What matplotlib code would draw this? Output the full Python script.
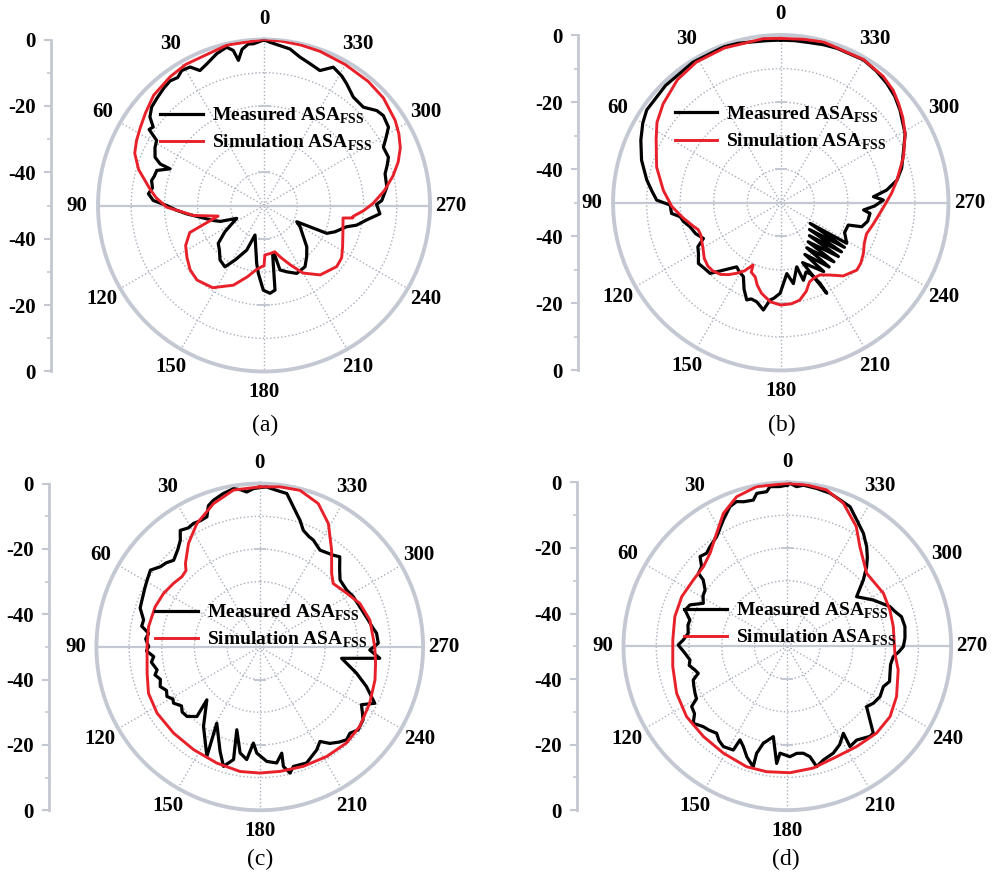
import numpy as np
import matplotlib
matplotlib.use('Agg')
import matplotlib.pyplot as plt

plt.rcParams['font.family'] = ['Liberation Serif', 'DejaVu Serif']
plt.rcParams['mathtext.fontset'] = 'custom'
plt.rcParams['mathtext.rm'] = 'Liberation Serif:bold'

# ---- data: (angle deg, level dB) ----
sim_a_deg = [0, 13, 29, 36, 45, 52, 58, 63, 68, 74, 82, 86, 91, 98, 103, 110, 117, 124, 131, 138,
             148, 159, 167, 173, 178, 180, 181, 187, 193, 198, 204, 210, 219, 230, 236, 242, 252,
             261, 262, 263, 267, 271, 277, 283, 288, 293, 298, 303, 312, 320, 330, 340, 347, 354, 360]
sim_a_db = [0, -0.4, -1.4, -2.0, -3.0, -4.7, -6.0, -6.9, -8.0, -10.7, -15.4, -17.5, -20.7, -28.5,
            -35.8, -26.2, -23.5, -22.0, -20.5, -19.8, -20.8, -24.3, -28, -30.5, -31.6, -31.8, -35.1,
            -35.4, -35.7, -33.5, -30.4, -26.5, -23.1, -21.4, -21.8, -23.2, -25, -25.9, -23.0, -23.0,
            -20, -17.2, -13.5, -10.1, -7.5, -5.4, -4, -2.9, -1.6, -1.2, -1.0, -0.6, -0.4, -0.2, 0]

meas_a_deg = [0, 3.8, 5.5, 8, 10, 11.2, 13.3, 17.3, 22, 25.4, 28.1, 31.4, 34, 37, 40.4, 44.7, 48.8,
              52.2, 54.7, 56.5, 58.8, 62, 66.1, 68.2, 68.7, 71.9, 75, 77.5, 81, 84.2, 87.4, 90, 93,
              96.2, 100.3, 106.5, 110, 115.1, 123.9, 129.6, 135, 141.1, 147.5, 152, 158.8, 163,
              172.8, 175.2, 179.5, 183.9, 187.4, 190, 192, 193.9, 198.9, 205.7, 213.8, 220, 226,
              239.5, 243.6, 246.1, 249.7, 255.6, 258, 262, 265.9, 270.6, 272.4, 278.5, 284.7, 288,
              291.2, 296, 299, 302.2, 307, 310.1, 314.7, 320.5, 325.8, 329, 333.4, 337.5, 342,
              346.4, 350.6, 354.3, 357.9, 360]
meas_a_db = [-0.1, -1.2, -1.1, -2.5, -5.6, -2.4, -1.0, -2.1, -4.0, -5.0, -2.7, -2.4, -3.5, -3.0,
             -3.5, -4.3, -5.0, -6.5, -9.1, -8.5, -12.2, -12.8, -14.1, -16.3, -19.6, -16.0, -15.8,
             -15.3, -16, -15.0, -16.6, -20.7, -23.5, -26.6, -30.4, -34.1, -36, -40.9, -35.8, -32.1,
             -31, -28.9, -28.1, -31.4, -35.6, -40.7, -32.4, -29.5, -24.5, -23.5, -24.3, -35, -35.1,
             -30, -28.9, -27.3, -27.8, -30, -32.1, -37.4, -39, -29.3, -27.2, -24.3, -21.5, -18.8,
             -15, -16.1, -14.5, -12.6, -12.3, -11, -9.8, -10, -8, -5.7, -5.0, -5.6, -7.9, -7.7,
             -5.7, -4.5, -3.4, -6, -5.1, -4, -2.2, -1.6, -0.8, -0.1]

sim_b_deg = [0, 6, 20, 31, 40, 50, 57, 63, 74, 84, 92, 99, 105, 108, 112, 116, 120, 126, 131, 135,
             140, 144, 148, 152, 156, 157, 161, 164, 168, 174, 180, 186, 191, 196, 200, 204, 208.5,
             214, 220.5, 228.5, 233, 238.5, 244, 250, 257, 263, 269, 275, 281, 290.6, 299, 305,
             310, 315, 321, 330, 345, 352, 360]
sim_b_db = [-1.0, -0.8, -0.9, -1.1, -2.1, -4.2, -6, -8.3, -11.5, -14.8, -17.5, -20.6, -23, -24.1,
            -24.3, -23.8, -23.2, -21.8, -21.2, -21.3, -22.1, -23.5, -25.2, -27, -29.7, -27.5, -26.6,
            -24.5, -22.4, -20.3, -19.5, -19.7, -20.4, -22.5, -24.9, -25.5, -25.5, -24, -21.3, -19.7,
            -20.1, -21.1, -22.3, -22.8, -21.7, -20.5, -18.9, -16.8, -14.7, -10.9, -7.6, -5.6, -4.1,
            -2.6, -1.5, -0.7, -0.4, -0.8, -1.0]

meas_b_deg = [0, 5, 10, 15, 20, 32, 44.5, 55.3, 60, 65.9, 73, 80.4, 85, 88.8, 91.2, 95.6, 97.9,
              101, 104.8, 110, 114.8, 118, 121.6, 126.4, 131, 135, 139.6, 145.5, 149, 153.2, 157,
              160.7, 163, 166.4, 170.8, 173.7, 176, 179.6, 184.9, 188.9, 194, 196.3, 200, 202.5,
              206, 206.9, 200, 212, 205, 217, 210, 222, 215, 227, 221, 231, 227, 235, 234.9, 238.4,
              245, 251.7, 253.5, 258, 263.2, 265, 268, 271.5, 273.7, 276.8, 281, 286, 292, 299,
              307.8, 313, 318.4, 324, 329.9, 340, 345, 350, 355, 360]
meas_b_db = [-1.5, -1.5, -1.3, -0.8, -0.5, -0.6, -1.0, -1.4, -2.5, -4.3, -6.6, -9.5, -11.5, -13,
             -17, -17.3, -19.7, -20.5, -22, -23, -24.6, -22, -21.2, -19.5, -20, -20.2, -23.6, -26.8,
             -26, -25.3, -22, -19.3, -20, -19.6, -17.6, -20.8, -21.5, -23, -28.8, -25.6, -30.3,
             -25.9, -28, -27.1, -23.3, -19.7, -31, -25.8, -33, -26, -34.5, -26.3, -35.8, -26.5,
             -37, -26.7, -38.3, -26.8, -39.3, -26.9, -29, -28.8, -24.8, -23.5, -23.2, -25.2, -22,
             -19.4, -22.3, -18.2, -14.7, -12.5, -10.6, -7.6, -5, -3.5, -2.4, -1.5, -0.8, -1.0,
             -1.2, -1.5, -1.5, -1.5]

sim_c_deg = [0, 9.5, 17.9, 27, 34.5, 41.7, 44, 47.9, 53.6, 60.9, 69, 79.6, 89.8, 103.1, 112.6,
             122.8, 135, 147.2, 159.7, 171, 180, 189.3, 200, 211.4, 222.1, 231.6, 242.9, 254, 262,
             270.2, 283.7, 293.5, 301.7, 310.8, 315.7, 323.4, 330.9, 337.8, 345.6, 352.8, 360]
sim_c_db = [-1, -1.3, -3.9, -7.6, -11.5, -15.8, -17.5, -17.9, -17.2, -16.3, -15.7, -15.4, -15.5,
            -14.6, -13.1, -12.6, -12.7, -12.6, -12.1, -11.4, -11.4, -11.4, -11.1, -10.7, -10.4,
            -10.9, -12.2, -13.3, -14.2, -14.8, -15.3, -16.6, -18.7, -20.3, -18.5, -13.1, -6.8,
            -2.6, -0.5, -0.6, -1]

meas_c_deg = [0, 2.3, 4.8, 7, 9.4, 13.3, 17.5, 20, 22.1, 25, 28.2, 31, 34.3, 36.7, 40, 44.8, 48,
              51.1, 54.9, 59.3, 63, 68.3, 72, 76.9, 80, 83, 86, 89.8, 92, 95.2, 98, 102.6, 105, 108,
              111.7, 115, 118.1, 121, 123.1, 127, 130, 133.7, 137.9, 135, 144.7, 154.2, 150.6,
              159.2, 163.1, 166.9, 164.5, 169.5, 173.4, 176.2, 178.4, 183.5, 188.3, 191.7, 191.2,
              193.5, 195.7, 202, 209, 212.5, 216, 220, 223.1, 226.3, 229.9, 234.8, 237, 240.4,
              243.9, 249.7, 254.8, 262.1, 264.6, 268.4, 271.8, 276.7, 280, 284, 291.9, 298.3,
              303.2, 309.8, 314, 318.4, 321.3, 324, 328.1, 333.4, 336, 339.5, 342.4, 346.5, 350,
              353.8, 357.5, 360]
meas_c_db = [-1.2, -1.5, -2.4, -1.5, -0.9, -1.7, -2.9, -4, -7, -7.3, -7.1, -7.5, -6.8, -9.3, -11,
             -12.6, -11.5, -10.9, -9.1, -9.9, -10.5, -11.2, -11.5, -13.5, -13.3, -15.7, -15, -16,
             -15.3, -17.4, -16.5, -17.8, -16.8, -18, -17.2, -18.5, -17.8, -19, -18.5, -20, -19,
             -19.2, -21.3, -27.1, -20.2, -12.8, -23.2, -15.8, -11.8, -14.6, -23.7, -17, -15.3,
             -20.5, -17.5, -14.9, -14.1, -16.8, -12.7, -10.3, -12, -11.7, -14, -15.7, -13.5, -12,
             -11.1, -11.8, -10.6, -11.3, -12.5, -14.2, -10.8, -15.2, -19.3, -24.7, -13.1, -16.3,
             -13.7, -14, -15, -15.8, -17, -17.5, -18.2, -18, -16, -13.1, -14, -14.5, -15.1, -13.4,
             -13, -11.9, -9.3, -5.9, -2.3, -1.8, -1.0, -1.2]

sim_d_deg = [0, 10.9, 18.7, 25.7, 32, 39.7, 46.5, 54.8, 64.8, 75.2, 86.8, 100, 113, 124.9, 137.1,
             149.1, 161.3, 170.6, 181.2, 192, 204.1, 214.6, 225.8, 235.6, 245.3, 258, 266.3, 280.5,
             289.5, 298.9, 312.6, 323.9, 330.1, 338.6, 345.9, 353.2, 360]
sim_d_db = [-0.3, -0.4, -1.8, -5, -9.3, -13.1, -14.7, -14.9, -14.4, -14.5, -15, -14.5, -13.3, -12.5,
            -12.4, -12, -11.2, -11.2, -11.4, -12, -13.1, -12.8, -12, -12, -13.3, -15.4, -17.1,
            -17.1, -16.8, -16.5, -17.1, -12.4, -7.8, -3.1, -0.8, -0.4, -0.3]

meas_d_deg = [0, 2.6, 6.2, 7.6, 11.3, 13.1, 16.9, 19.3, 22.3, 26.9, 32.8, 37.8, 40.9, 44.2, 47.1,
              50.6, 51.7, 55.6, 59, 62.9, 67, 70.5, 74.9, 78, 82.5, 86.5, 89.3, 93.9, 98, 101,
              104.4, 106.9, 109.7, 113, 117, 120, 122.2, 126, 129.3, 133.7, 137, 140.9, 144, 147.5,
              152.5, 153.2, 156.3, 160, 164.2, 164, 166.1, 171.2, 174.8, 176.1, 181.4, 185, 188.5,
              191.6, 193.7, 197.6, 203.3, 208, 212.8, 212, 216.5, 222.5, 224.7, 232.7, 236.5,
              241.5, 247.2, 251, 255.3, 260, 264.4, 267, 269.8, 274, 279.5, 284.5, 288, 291.1,
              298.3, 305.6, 311.1, 315.1, 318, 321.5, 326.1, 331.2, 335.8, 340.2, 344.4, 349.5,
              354.3, 356.7, 359, 360]
meas_d_db = [-0.8, -1.2, -1.0, -2.4, -2.4, -4.2, -3.9, -3.2, -3.9, -6.8, -10.2, -11.5, -12.4,
             -11.8, -14.3, -14.9, -17.3, -19.6, -20, -21.2, -17.7, -16.9, -19.2, -19, -19.5, -18.2,
             -16.7, -18.7, -20, -19.5, -20.9, -21.6, -19.5, -19, -18.4, -18, -15.5, -15, -12.9,
             -14.5, -15, -15.8, -14.5, -13.7, -14.3, -18, -16.6, -14, -11.8, -16, -19.5, -22.1,
             -14.1, -17.3, -16.3, -17.2, -17, -15.6, -12.2, -13.6, -14.5, -16, -18.4, -13.9, -14.4,
             -12.7, -12.7, -19.6, -18.5, -17.8, -18.2, -17, -17.6, -18, -17.5, -16, -14.6, -14,
             -13.6, -14, -15.5, -16.4, -20.2, -24, -19.2, -15.7, -13.5, -11.1, -8.4, -6, -3.3,
             -2.5, -1.5, -1, -0.6, -1.2, -0.3, -0.8]

angle_ticks = list(range(0, 360, 30))
angle_labels = [str(a) for a in angle_ticks]
left_ticks = [50, 30, 10, -10, -30, -50]
left_labels = ['0', '-20', '-40', '-40', '-20', '0']
captions = ['(a)', '(b)', '(c)', '(d)']

panels = [
    (sim_a_deg, sim_a_db, meas_a_deg, meas_a_db),
    (sim_b_deg, sim_b_db, meas_b_deg, meas_b_db),
    (sim_c_deg, sim_c_db, meas_c_deg, meas_c_db),
    (sim_d_deg, sim_d_db, meas_d_deg, meas_d_db),
]

# layout (figure fractions)
polar_rects = [
    [0.0988, 0.5788, 0.3347, 0.3764],
    [0.6180, 0.5800, 0.3381, 0.3803],
    [0.0972, 0.0813, 0.3293, 0.3704],
    [0.6285, 0.0815, 0.3303, 0.3715],
]
left_axis_x = [0.0511, 0.5830, 0.0497, 0.5820]
legend_anchor = [(0.1613, 0.8800), (0.6800, 0.8818), (0.1563, 0.3168), (0.6895, 0.3187)]
caption_pos = [(0.267, 0.518), (0.788, 0.518), (0.262, 0.025), (0.792, 0.025)]

GRID = '#c4c8d2'
DOT = '#a9aebb'
RED = '#e8202a'
BOLD = dict(family='Liberation Serif', weight='bold', size=15)

fig = plt.figure(figsize=(9.92, 8.82), dpi=100)

for i, (sd, sv, md, mv) in enumerate(panels):
    ax = fig.add_axes(polar_rects[i], projection='polar')
    ax.set_theta_zero_location('N')
    ax.set_theta_direction(1)
    ax.set_ylim(-50, 0)

    ax.set_thetagrids(angle_ticks, angle_labels)
    ax.set_yticks([-40, -30, -20, -10])
    ax.set_yticklabels([])
    ax.grid(True, color=DOT, ls=':', lw=1.0)
    # keep the 90/270 spoke out of the dotted grid; it is drawn solid below
    ax.xaxis.get_gridlines()[3].set_visible(False)
    ax.xaxis.get_gridlines()[9].set_visible(False)

    # solid 90-270 line and radial tick dashes
    ax.plot([np.pi / 2, np.pi / 2], [0, -50], color=GRID, lw=1.6, zorder=2)
    ax.plot([3 * np.pi / 2, 3 * np.pi / 2], [-50, 0], color=GRID, lw=1.6, zorder=2)
    for r in (-40, -20):
        ax.plot([0, np.pi], [r, r], ls='none', marker='_', ms=9, mew=1.3, color=GRID, zorder=2)

    ax.plot(np.deg2rad(md), mv, color='black', lw=2.3, label='Measured ASA$_{\\mathregular{FSS}}$', zorder=3)
    ax.plot(np.deg2rad(sd), sv, color=RED, lw=2.1, label='Simulation ASA$_{\\mathregular{FSS}}$', zorder=4)

    ax.spines['polar'].set_color(GRID)
    ax.spines['polar'].set_linewidth(2.8)
    ax.tick_params(axis='x', pad=8, direction='in', length=6, width=1.2, color=GRID)
    for t in ax.get_xticklabels():
        t.set_fontproperties(matplotlib.font_manager.FontProperties(**BOLD))

    ax.legend(loc='upper left', bbox_to_anchor=legend_anchor[i], bbox_transform=fig.transFigure,
              frameon=False, borderpad=0, borderaxespad=0, handlelength=2.2, handletextpad=0.45,
              labelspacing=0.35, prop=dict(family='Liberation Serif', weight='bold', size=14))

    # left radial scale
    r = polar_rects[i]
    la = fig.add_axes([left_axis_x[i], r[1], 0.0005, r[3]])
    la.set_ylim(-50, 50)
    for s in ('right', 'top', 'bottom'):
        la.spines[s].set_visible(False)
    la.spines['left'].set_color(GRID)
    la.spines['left'].set_linewidth(2)
    la.set_xticks([])
    la.set_yticks(left_ticks)
    la.set_yticklabels(left_labels, fontdict=BOLD)
    la.set_yticks([40, 20, 0, -20, -40], minor=True)
    la.tick_params(axis='y', which='major', length=5, width=1.5, color=GRID, pad=6)
    la.tick_params(axis='y', which='minor', length=3, width=1.2, color=GRID)
    la.patch.set_visible(False)

    fig.text(caption_pos[i][0], caption_pos[i][1], captions[i], ha='center', va='center',
             family='Liberation Serif', size=17)

fig.savefig('out.png', dpi=100)
